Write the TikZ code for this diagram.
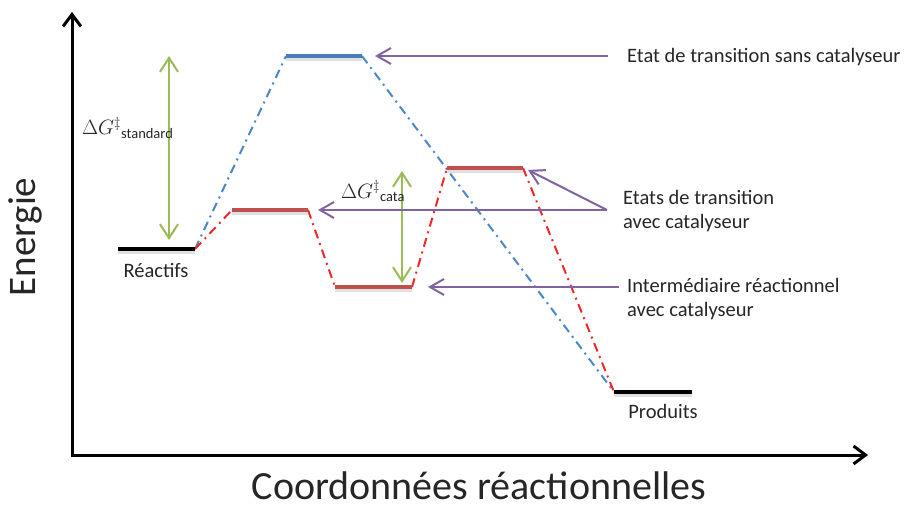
\documentclass[tikz,border=0pt]{standalone}
\usepackage[no-math]{fontspec}
\setmainfont{Carlito}
\usetikzlibrary{arrows.meta}
\definecolor{lvlblue}{HTML}{4A7EBB}
\definecolor{pathblue}{HTML}{4A86C8}
\definecolor{lvlred}{HTML}{C0504D}
\definecolor{pathred}{HTML}{F02828}
\definecolor{dgreen}{HTML}{9BBB59}
\definecolor{dpurple}{HTML}{8064A2}
\definecolor{txt}{HTML}{262626}
\begin{document}
\begin{tikzpicture}[x=1pt,y=-1pt,
  level/.style={line width=4pt},
  shadowline/.style={line width=3pt, black!12},
  rpath/.style={line width=2pt, dash pattern=on 9pt off 5pt on 2pt off 5pt},
  axis/.style={line width=3pt, {Straight Barb[length=12pt,width=18pt]}-{Straight Barb[length=12pt,width=18pt]}},
  dg/.style={dgreen, line width=2pt, {Straight Barb[length=14pt,width=18pt]}-{Straight Barb[length=14pt,width=18pt]}},
  pointer/.style={dpurple, line width=2pt, -{Straight Barb[length=14pt,width=16pt]}},
  lbl/.style={font=\fontsize{20.5}{23.5}\selectfont, text=txt, inner sep=0pt}]
\useasboundingbox (0,0) rectangle (904,508);
% axes
\coordinate (O) at (72,455);
\coordinate (Ytop) at (72,12);
\coordinate (Xend) at (868,455);
\draw[axis] (Ytop) -- (O) -- (Xend);
\node[lbl, font=\fontsize{39}{42}\selectfont, rotate=90] (energie) at (25,237) {Energie};
\node[lbl, font=\fontsize{40}{44}\selectfont, anchor=base, text depth=0pt] (coord) at (479,499) {Coordonnées réactionnelles};
% level endpoints
\coordinate (R1) at (118,249); \coordinate (R2) at (195,249);
\coordinate (B1) at (286,56);  \coordinate (B2) at (362,56);
\coordinate (Ta1) at (232,210); \coordinate (Ta2) at (308,210);
\coordinate (I1) at (335,287); \coordinate (I2) at (412,287);
\coordinate (Tb1) at (447,168); \coordinate (Tb2) at (523,168);
\coordinate (P1) at (614,392); \coordinate (P2) at (692,392);
% reaction paths
\draw[rpath, pathblue] (R2) -- (B1);
\draw[rpath, pathblue] (B2) -- (P1);
\draw[rpath, pathred] (R2) -- (Ta1);
\draw[rpath, pathred] (Ta2) -- (I1);
\draw[rpath, pathred] (I2) -- (Tb1);
\draw[rpath, pathred] (Tb2) -- (P1);
% shadows
\foreach \a/\b in {R1/R2,B1/B2,Ta1/Ta2,I1/I2,Tb1/Tb2,P1/P2}
  \draw[shadowline] ([yshift=-3.5pt]\a) -- ([yshift=-3.5pt]\b);
% levels
\draw[level, black] (R1) -- (R2);
\draw[level, black] (P1) -- (P2);
\draw[level, lvlblue] (B1) -- (B2);
\draw[level, lvlred] (Ta1) -- (Ta2);
\draw[level, lvlred] (I1) -- (I2);
\draw[level, lvlred] (Tb1) -- (Tb2);
\node[lbl] (reactifs) at (156,270) {Réactifs};
\node[lbl] (produits) at (663,411) {Produits};
% energy differences
\coordinate (g1t) at (169,56); \coordinate (g1b) at (169,240);
\coordinate (g2t) at (402,171); \coordinate (g2b) at (402,283);
\draw[dg] (g1t) -- (g1b);
\draw[dg] (g2t) -- (g2b);
\node[lbl, anchor=base west, font=\fontsize{21}{24}\selectfont] (dgs) at (82,135)
  {$\Delta G^{\ddagger}$\raisebox{-0.3ex}{\fontsize{14.5}{16}\selectfont standard}};
\node[lbl, anchor=base west, font=\fontsize{21}{24}\selectfont] (dgc) at (341,198)
  {$\Delta G^{\ddagger}$\raisebox{-0.3ex}{\fontsize{14.5}{16}\selectfont cata}};
% annotations
\node[lbl, anchor=base west] (ets) at (627,63) {Etat de transition sans catalyseur};
\node[lbl, anchor=west, align=left] (etc) at (623,211) {Etats de transition\\avec catalyseur};
\node[lbl, anchor=west, align=left] (irc) at (627,299) {Intermédiaire réactionnel\\avec catalyseur};
\coordinate (s1) at (608,56); \coordinate (e1) at (375,56);
\coordinate (s2) at (607,210); \coordinate (e2a) at (528,170); \coordinate (e2b) at (318,210);
\coordinate (s3) at (619,287); \coordinate (e3) at (428,287);
\draw[pointer] (s1) -- (e1);
\draw[pointer] (s2) -- (e2a);
\draw[pointer] (s2) -- (e2b);
\draw[pointer] (s3) -- (e3);
\end{tikzpicture}
\end{document}
